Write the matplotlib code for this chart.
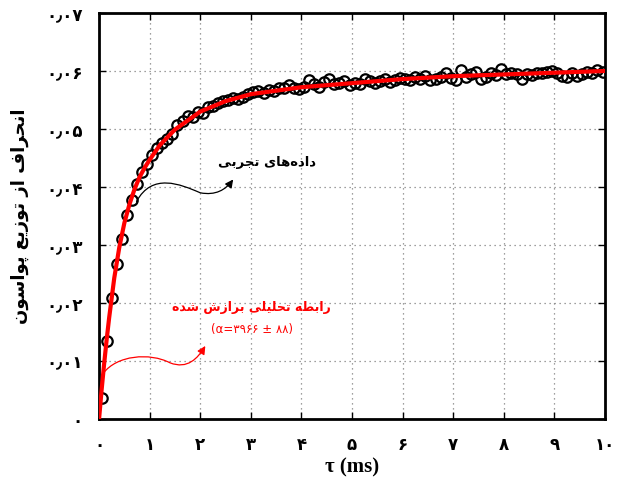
import numpy as np
import matplotlib
matplotlib.use("Agg")
import matplotlib.pyplot as plt
from matplotlib.path import Path
from matplotlib.patches import FancyArrowPatch

# -----------------------------
# DATA
# -----------------------------
# measured points, one every 0.1 ms starting at 0.05 ms
t_data = np.round(np.arange(0.05, 10.0, 0.1), 2)
dev_data = [
    0.0036, 0.0135, 0.0208, 0.0267, 0.0311, 0.0352, 0.0377, 0.0405, 0.0426, 0.0440,
    0.0455, 0.0468, 0.0476, 0.0483, 0.0492, 0.0507, 0.0513, 0.0522, 0.0520, 0.0530,
    0.0527, 0.0538, 0.0539, 0.0545, 0.0548, 0.0550, 0.0553, 0.0551, 0.0555, 0.0560,
    0.0563, 0.0566, 0.0562, 0.0568, 0.0566, 0.0571, 0.0570, 0.0575, 0.0571, 0.0569,
    0.0572, 0.0584, 0.0578, 0.0573, 0.0581, 0.0587, 0.0577, 0.0580, 0.0583, 0.0576,
    0.0580, 0.0577, 0.0586, 0.0582, 0.0580, 0.0583, 0.0586, 0.0581, 0.0585, 0.0588,
    0.0587, 0.0584, 0.0589, 0.0586, 0.0592, 0.0584, 0.0587, 0.0590, 0.0596, 0.0588,
    0.0585, 0.0601, 0.0589, 0.0595, 0.0598, 0.0587, 0.0590, 0.0597, 0.0593, 0.0604,
    0.0594, 0.0596, 0.0594, 0.0587, 0.0594, 0.0593, 0.0597, 0.0596, 0.0599, 0.0600,
    0.0597, 0.0592, 0.0590, 0.0596, 0.0591, 0.0594, 0.0599, 0.0597, 0.0602, 0.0598,
]

# fitted curve
t_fit = [0, 0.05, 0.1, 0.15, 0.2, 0.3, 0.4, 0.5, 0.6, 0.7, 0.8, 0.9, 1.0, 1.2, 1.5,
         2.0, 2.5, 3.0, 4.0, 5.0, 6.0, 7.0, 8.0, 9.0, 10.0]
dev_fit = [0, 0.0050, 0.0095, 0.0137, 0.0175, 0.0243, 0.0296, 0.0338, 0.0370, 0.0396,
           0.0417, 0.0433, 0.0447, 0.0472, 0.0499, 0.0530, 0.0548, 0.0560, 0.0572,
           0.0579, 0.0586, 0.0591, 0.0594, 0.0597, 0.0600]

x_ticks = list(range(11))
y_ticks = [0, 0.01, 0.02, 0.03, 0.04, 0.05, 0.06, 0.07]

fa_digits = "۰۱۲۳۴۵۶۷۸۹"


def fa_num(s):
    return "".join(fa_digits[int(c)] if c.isdigit() else c for c in s)


x_labels = [fa_num(str(v)) for v in x_ticks]
y_labels = ["۰"] + [fa_num("0٫0%d" % i) for i in range(1, 8)]

# -----------------------------
# tiny arabic shaper (matplotlib has none)
# -----------------------------
FORMS = {
    "ا": (0xFE8D, 0xFE8E, None, None),
    "ب": (0xFE8F, 0xFE90, 0xFE91, 0xFE92),
    "پ": (0xFB56, 0xFB57, 0xFB58, 0xFB59),
    "ت": (0xFE95, 0xFE96, 0xFE97, 0xFE98),
    "ج": (0xFE9D, 0xFE9E, 0xFE9F, 0xFEA0),
    "ح": (0xFEA1, 0xFEA2, 0xFEA3, 0xFEA4),
    "د": (0xFEA9, 0xFEAA, None, None),
    "ر": (0xFEAD, 0xFEAE, None, None),
    "ز": (0xFEAF, 0xFEB0, None, None),
    "س": (0xFEB1, 0xFEB2, 0xFEB3, 0xFEB4),
    "ش": (0xFEB5, 0xFEB6, 0xFEB7, 0xFEB8),
    "ط": (0xFEC1, 0xFEC2, 0xFEC3, 0xFEC4),
    "ع": (0xFEC9, 0xFECA, 0xFECB, 0xFECC),
    "ف": (0xFED1, 0xFED2, 0xFED3, 0xFED4),
    "ل": (0xFEDD, 0xFEDE, 0xFEDF, 0xFEE0),
    "ن": (0xFEE5, 0xFEE6, 0xFEE7, 0xFEE8),
    "ه": (0xFEE9, 0xFEEA, 0xFEEB, 0xFEEC),
    "و": (0xFEED, 0xFEEE, None, None),
    "ی": (0xFBFC, 0xFBFD, 0xFBFE, 0xFBFF),
}


def dual(c):
    return c in FORMS and FORMS[c][2] is not None


def shape(text):
    out = []
    for i, c in enumerate(text):
        if c not in FORMS:
            if c != "\u200c":
                out.append(c)
            continue
        prev_j = i > 0 and dual(text[i - 1])
        next_j = i < len(text) - 1 and text[i + 1] in FORMS and dual(c)
        iso, fin, ini, med = FORMS[c]
        if prev_j and next_j:
            code = med
        elif prev_j:
            code = fin
        elif next_j:
            code = ini
        else:
            code = iso
        out.append(chr(code))
    return "".join(reversed(out))


ylab = shape("انحراف از توزیع پواسون")
exp_lab = shape("داده\u200cهای تجربی")
fit_lab = shape("رابطه تحلیلی برازش شده")
alpha_lab = "(α=" + fa_num("3966") + " ± " + fa_num("88") + ")"

# -----------------------------
# PLOT
# -----------------------------
plt.rcParams["font.family"] = ["DejaVu Sans"]

fig = plt.figure(figsize=(6.27, 4.8), dpi=100)
ax = fig.add_axes([0.158, 0.127, 0.807, 0.846])

ax.plot(t_data, dev_data, "o", mfc="none", mec="black", mew=1.6, ms=7.5, zorder=3)
ax.plot(t_fit, dev_fit, color="red", lw=3, zorder=4)

ax.set_xlim(0, 10)
ax.set_ylim(0, 0.07)
ax.set_xticks(x_ticks)
ax.set_xticklabels(x_labels, fontsize=12, fontweight="bold")
ax.set_yticks(y_ticks)
ax.set_yticklabels(y_labels, fontsize=12, fontweight="bold")
ax.tick_params(direction="in", length=5, width=1, top=True, right=True, pad=12)

ax.grid(True, color="gray", linestyle=(0, (1, 3)), lw=0.9)
for s in ax.spines.values():
    s.set_linewidth(2)

ax.set_ylabel(ylab, fontsize=13, fontweight="bold", labelpad=12)
ax.set_xlabel("τ (ms)", fontsize=15, fontweight="bold", family="Liberation Serif", labelpad=3)

# annotations
ax.text(3.32, 0.0442, exp_lab, fontsize=9.5, fontweight="bold", ha="center", va="center")
ax.text(3.02, 0.0192, fit_lab, fontsize=9, fontweight="bold", color="red",
        ha="center", va="center")
ax.text(3.02, 0.0155, alpha_lab, fontsize=8.5, color="red", ha="center", va="center")

black_path = Path([(0.74, 0.0375), (1.05, 0.0425), (1.6, 0.0405), (2.0, 0.0390),
                   (2.3, 0.0385), (2.5, 0.0395), (2.65, 0.0413)],
                  [Path.MOVETO, Path.CURVE4, Path.CURVE4, Path.CURVE4,
                   Path.CURVE4, Path.CURVE4, Path.CURVE4])
ax.add_patch(FancyArrowPatch(path=black_path, arrowstyle="-|>", mutation_scale=12,
                             color="black", lw=0.9, zorder=5))

red_path = Path([(0.085, 0.0079), (0.35, 0.0110), (1.0, 0.0115), (1.4, 0.0097),
                 (1.75, 0.0085), (1.95, 0.0105), (2.1, 0.0126)],
                [Path.MOVETO, Path.CURVE4, Path.CURVE4, Path.CURVE4,
                 Path.CURVE4, Path.CURVE4, Path.CURVE4])
ax.add_patch(FancyArrowPatch(path=red_path, arrowstyle="-|>", mutation_scale=12,
                             color="red", lw=0.9, zorder=5))

fig.savefig("out.png", dpi=100)
